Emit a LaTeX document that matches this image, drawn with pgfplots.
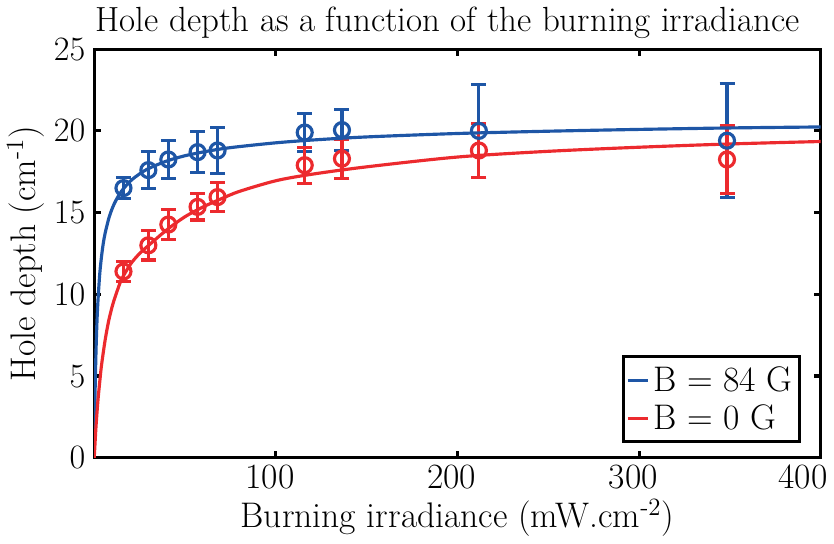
\documentclass[border=0pt]{standalone}
\usepackage{pgfplots}
\pgfplotsset{compat=1.18}
\definecolor{cblue}{RGB}{30,86,166}
\definecolor{cred}{RGB}{236,42,46}
\begin{document}
\begin{tikzpicture}
\begin{axis}[
  scale only axis,
  width=368pt, height=207pt,
  xmin=0, xmax=400, ymin=0, ymax=25,
  xtick={100,200,300,400},
  xticklabels={100,200,300,\kern-12pt400},
  ytick={0,5,10,15,20,25},
  tick align=inside,
  major tick length=3.5pt,
  axis line style={line width=1.6pt},
  every tick/.style={line width=1.6pt, black},
  tick label style={font=\fontsize{18}{20}\selectfont},
  label style={font=\fontsize{18}{20}\selectfont},
  title style={font=\fontsize{17.7}{20}\selectfont, yshift=-4pt, xshift=-5pt},
  xlabel={Burning irradiance (mW.cm\textsuperscript{-2})},
  ylabel={Hole depth (cm\textsuperscript{-1})},
  xlabel style={yshift=2pt},
  ylabel style={yshift=-2pt},
  title={Hole depth as a function of the burning irradiance},
  yticklabel style={xshift=-1pt},
  xticklabel style={xshift=-3pt},
  legend style={at={(rel axis cs:0.973,0.035)}, anchor=south east,
    font=\fontsize{18}{20}\selectfont, line width=1.6pt, draw=black,
    inner xsep=1.5pt, inner ysep=3pt, row sep=1pt,
    cells={anchor=west}},
  legend image code/.code={\draw[#1, line width=1.6pt] (0pt,0pt) -- (10pt,0pt);},
  legend cell align=left,
]
% data points
\addplot[cblue, line width=1.6pt, only marks, mark=o, mark size=3.8pt,
  error bars/.cd, y dir=both, y explicit,
  error bar style={line width=1.6pt},
  error mark options={rotate=90, mark size=3.8pt, line width=1.6pt}]
  coordinates {
  (16.1,16.5) +- (0,0.65)
  (29.8,17.6) +- (0,1.15)
  (40.8,18.25) +- (0,1.15)
  (56.9,18.7) +- (0,1.25)
  (67.9,18.8) +- (0,1.4)
  (115.9,19.9) +- (0,1.15)
  (136.4,20.05) +- (0,1.25)
  (211.8,20.0) +- (0,2.85)
  (348.4,19.4) +- (0,3.5)
  };
\addplot[cred, line width=1.6pt, only marks, mark=o, mark size=3.8pt,
  error bars/.cd, y dir=both, y explicit,
  error bar style={line width=1.6pt},
  error mark options={rotate=90, mark size=3.8pt, line width=1.6pt}]
  coordinates {
  (16.1,11.4) +- (0,0.6)
  (29.8,13.0) +- (0,0.9)
  (40.8,14.27) +- (0,0.9)
  (56.9,15.35) +- (0,0.8)
  (67.9,15.95) +- (0,0.9)
  (115.9,17.9) +- (0,1.1)
  (136.4,18.3) +- (0,1.2)
  (211.8,18.8) +- (0,1.65)
  (348.4,18.25) +- (0,2.1)
  };
% fitted curves
\addplot[cblue, line width=1.6pt, smooth] coordinates {
  (0,0) (0.25,2.4) (0.5,4.2) (1,6.6) (1.5,8.3) (2,9.5) (3,11.2) (4,12.3)
  (5,13.13) (6,13.74) (8,14.64) (10,15.28) (12,15.76) (15,16.31) (20,16.94)
  (25,17.37) (30,17.70) (40,18.16) (50,18.48) (60,18.71) (70,18.90) (80,19.04)
  (100,19.27) (120,19.44) (150,19.63) (200,19.84) (250,19.98) (300,20.09)
  (350,20.18) (400,20.24)
};
\addlegendentry{B = 84 G}
\addplot[cred, line width=1.6pt, smooth] coordinates {
  (0,0) (0.5,1.0) (1,1.95) (2,3.45) (3,4.6) (4,5.65) (6,7.2) (8,8.4)
  (10,9.3) (12,10.0) (15,10.9) (20,11.85) (25,12.5) (30,13.0) (40,13.95)
  (50,14.75) (60,15.35) (70,15.85) (80,16.3) (100,16.95) (120,17.35)
  (150,17.8) (200,18.4) (250,18.75) (300,19.0) (350,19.2) (400,19.35)
};
\addlegendentry{B = 0 G}
\end{axis}
\end{tikzpicture}
\end{document}
